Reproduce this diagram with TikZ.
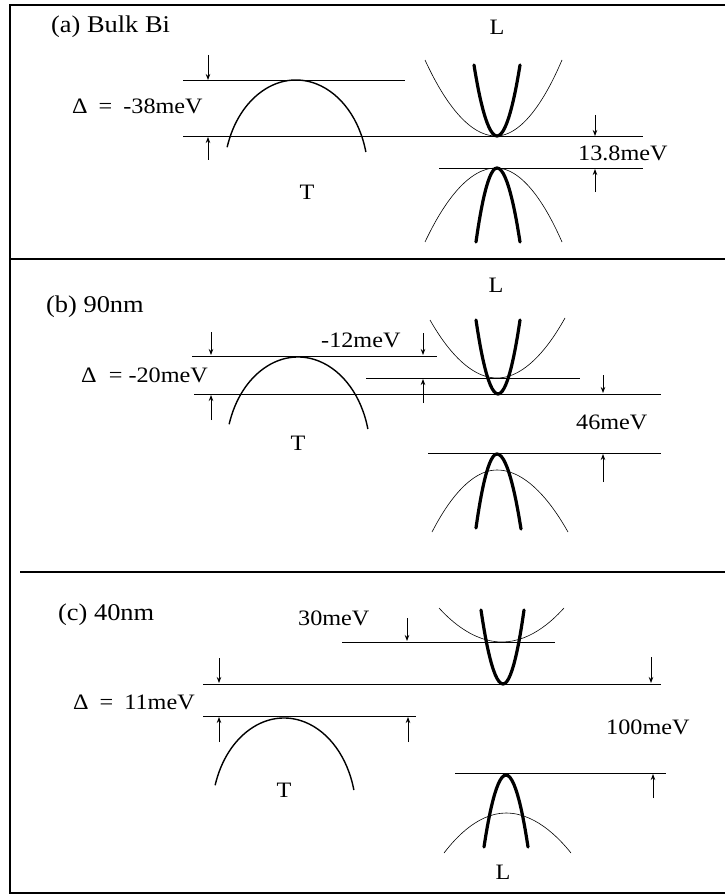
\documentclass[tikz,border=0pt]{standalone}
\usepackage{fontspec}
\setmainfont{Liberation Serif}[FakeStretch=1.1]
\usetikzlibrary{arrows.meta}
\tikzset{frame/.style={line width=1.8pt},lvl/.style={line width=0.9pt},band/.style={line width=1.4pt},heavy/.style={line width=3.2pt,line cap=round},fine/.style={line width=0.6pt},gap/.style={-{Stealth[length=6pt,width=4.5pt]},line width=0.8pt},lbl/.style={inner sep=0pt,font=\fontsize{22}{26}\selectfont},tag/.style={inner sep=0pt,anchor=west,font=\fontsize{24}{28}\selectfont}}
\begin{document}
\begin{tikzpicture}[x=1pt,y=-1pt]
\useasboundingbox (0,0) rectangle (725,896);
% frame and panel separators
\draw[frame] (725,5)--(10,5)--(10,893)--(725,893);
\draw[frame] (10,259)--(725,259);
\draw[frame] (20,572)--(725,572);
% energy levels
\foreach \xa/\xb/\yy in {183/405/80,183/643/136,439/643/168,192/437/356,366/580/378,194/661/394,428/661/453,342/555/642,203/661/684,203/416/716,455/666/773}{\draw[lvl](\xa,\yy)--(\xb,\yy);}
% T hole band
\foreach \xc/\yc in {296/175,298/452,284/813}{\draw[band](\xc,\yc) ++(197:72 and 95) arc[start angle=197,end angle=346,x radius=72,y radius=95];}
% L electron and hole bands
\foreach \st/\xa/\ya/\xv/\yv/\xb/\yb in {fine/425/60/496/136/562/60,heavy/474/65/497/136/520/65,fine/425/242/496/168/562/242,heavy/476/242/497/168/520/242,
fine/430/320/497/378/565/318,heavy/476/320/498/394/520/320,fine/432/532/497/470/568/532,heavy/476/528/497/454/521/529,
fine/439/608/502/642/564/608,heavy/481/610/503/684/524/610,fine/444/853/506/813/571/853,heavy/484/847/506/775/528/847}{\draw[\st](\xa,\ya) parabola bend (\xv,\yv) (\xb,\yb);}
% gap markers
\foreach \xx/\ya/\yb in {208/55/80,208/160/137,595/115/136,595/192/169,211/332/355,211/420/395,423/333/355,423/403/379,603/375/393,603/482/454,407/618/641,219/658/683,651/657/683,219/742/717,408/742/717,653/798/774}{\draw[gap](\xx,\ya)--(\xx,\yb);}
% labels
\node[tag] (tagA) at (51,27) {(a) Bulk Bi};
\node[lbl] (la) at (497,27) {L};
\node[lbl,anchor=west] (da) at (72,106) {Δ\enspace=\enspace-38meV};
\node[lbl] (ta) at (307,192) {T};
\node[lbl,anchor=west] (ga) at (578,153) {13.8meV};
\node[tag] (tagB) at (46,307) {(b) 90nm};
\node[lbl] (lb) at (496,285) {L};
\node[lbl,anchor=west] (db) at (81,375) {Δ\ \ = -20meV};
\node[lbl,anchor=west] (sb) at (321,340) {-12meV};
\node[lbl] (tb) at (298,443) {T};
\node[lbl,anchor=west] (gb) at (576,422) {46meV};
\node[tag] (tagC) at (58,615) {(c) 40nm};
\node[lbl,anchor=west] (sc) at (298,618) {30meV};
\node[lbl,anchor=west] (dc) at (73,702) {Δ\enspace=\enspace11meV};
\node[lbl] (tc) at (284,790) {T};
\node[lbl,anchor=west] (gc) at (606,727) {100meV};
\node[lbl] (lc) at (503,872) {L};
\end{tikzpicture}
\end{document}
